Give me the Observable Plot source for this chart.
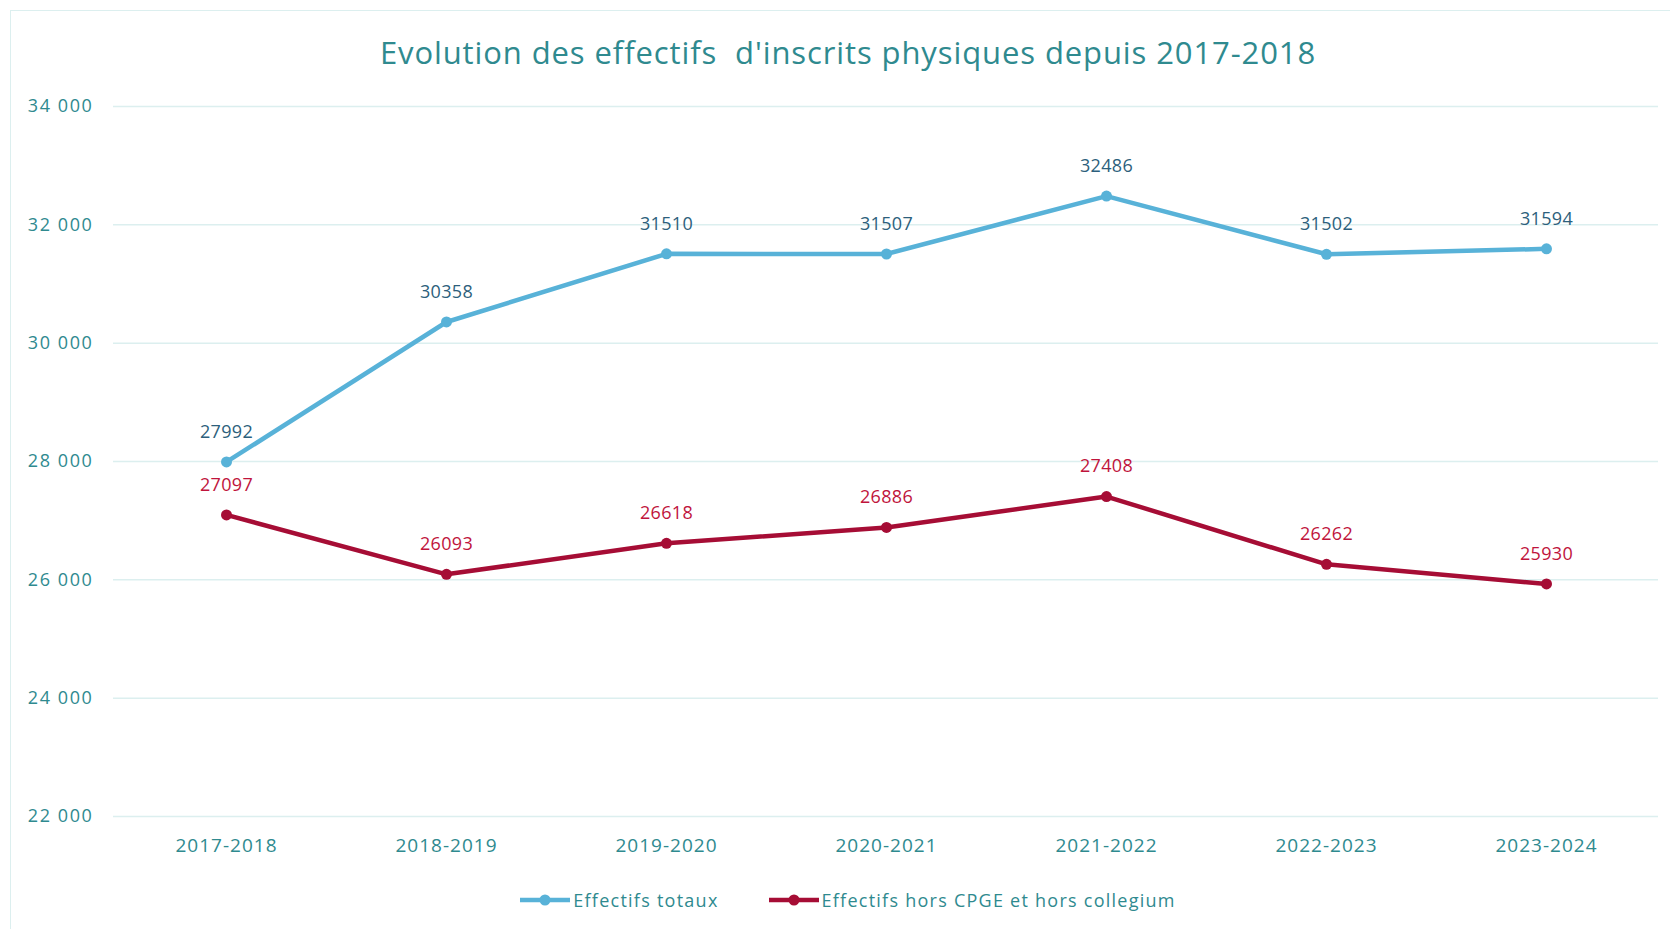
<!DOCTYPE html>
<html>
<head>
<meta charset="utf-8">
<script src="https://cdn.jsdelivr.net/npm/d3@7"></script>
<script src="https://cdn.jsdelivr.net/npm/@observablehq/plot@0.6"></script>
<style>
  html, body { margin: 0; padding: 0; background: #fff; }
  #wrap { position: relative; width: 1670px; height: 929px; overflow: hidden; font-family: "Open Sans", sans-serif; }
  #frame { position: absolute; left: 10px; top: 10px; width: 1660px; height: 930px; border-left: 1.5px solid #dcefef; border-top: 1.5px solid #dcefef; box-sizing: border-box; pointer-events: none; }
  #title { height: 85px; box-sizing: border-box; padding-top: 32px; padding-left: 26px; text-align: center; font-size: 31px; line-height: 40px; color: #2f8a8f; letter-spacing: 0.9px; white-space: nowrap; }
  #chart svg { display: block; }
  #chart g[aria-label="y-axis tick label"] text { letter-spacing: 1.6px; }
  #chart g[aria-label="x-axis tick label"] text { letter-spacing: 1px; }
  #chart g[aria-label="text"] text { letter-spacing: 0.3px; }
  #legend { height: 59px; box-sizing: border-box; padding-left: 26px; display: flex; justify-content: center; align-items: center; gap: 50px; font-size: 18px; color: #2f8a8f; letter-spacing: 1.25px; }
  .item { display: flex; align-items: center; }
  .item svg { display: block; margin-right: 3px; }
</style>
</head>
<body>
<div id="wrap">
  <div id="title">Evolution des effectifs&nbsp; d'inscrits physiques depuis 2017-2018</div>
  <div id="chart"></div>
  <div id="legend"></div>
  <div id="frame"></div>
</div>
<script>
const years = ["2017-2018", "2018-2019", "2019-2020", "2020-2021", "2021-2022", "2022-2023", "2023-2024"];
const effectifsTotaux = [27992, 30358, 31510, 31507, 32486, 31502, 31594];
const effectifsHorsCPGE = [27097, 26093, 26618, 26886, 27408, 26262, 25930];
const seriesNames = ["Effectifs totaux", "Effectifs hors CPGE et hors collegium"];
const yTicks = [22000, 24000, 26000, 28000, 30000, 32000, 34000];

const lineColors = ["#58b2d8", "#a60d35"];
const labelColors = ["#2d5f7c", "#c0143c"];
const axisColor = "#2f8a8f";

const totaux = years.map((y, i) => ({year: y, value: effectifsTotaux[i]}));
const hors = years.map((y, i) => ({year: y, value: effectifsHorsCPGE[i]}));

const fmt = d => d3.format(",")(d).replace(/,/g, " ");

function seriesMarks(data, k) {
  return [
    Plot.lineY(data, {x: "year", y: "value", stroke: lineColors[k], strokeWidth: 4.5}),
    Plot.dot(data, {x: "year", y: "value", fill: lineColors[k], r: 5.5}),
    Plot.text(data, {x: "year", y: "value", text: d => String(d.value), dy: -30, fill: labelColors[k], fontSize: 18})
  ];
}

const chart = Plot.plot({
  width: 1670,
  height: 785,
  marginTop: 21,
  marginBottom: 54,
  marginLeft: 113,
  marginRight: 12,
  style: {fontFamily: "Open Sans, sans-serif", fontSize: "18px", background: "white", overflow: "visible"},
  x: {type: "point", domain: years, padding: 0.5, label: null},
  y: {domain: [22000, 34000], label: null},
  marks: [
    Plot.gridY(yTicks, {stroke: "#dcefef", strokeOpacity: 1, strokeWidth: 1.5}),
    Plot.axisY(yTicks, {tickSize: 0, tickPadding: 20, tickFormat: fmt, fill: axisColor, fontSize: 18, label: null}),
    Plot.axisX({tickSize: 0, tickPadding: 22, fill: axisColor, fontSize: 19, label: null}),
    ...seriesMarks(totaux, 0),
    ...seriesMarks(hors, 1)
  ]
});
document.getElementById("chart").appendChild(chart);

const legend = document.getElementById("legend");
seriesNames.forEach((name, k) => {
  const item = document.createElement("div");
  item.className = "item";
  item.innerHTML = `<svg width="50" height="14"><line x1="0" x2="50" y1="7" y2="7" stroke="${lineColors[k]}" stroke-width="4.5"/><circle cx="25" cy="7" r="5.5" fill="${lineColors[k]}"/></svg><span>${name}</span>`;
  legend.appendChild(item);
});
</script>
</body>
</html>
